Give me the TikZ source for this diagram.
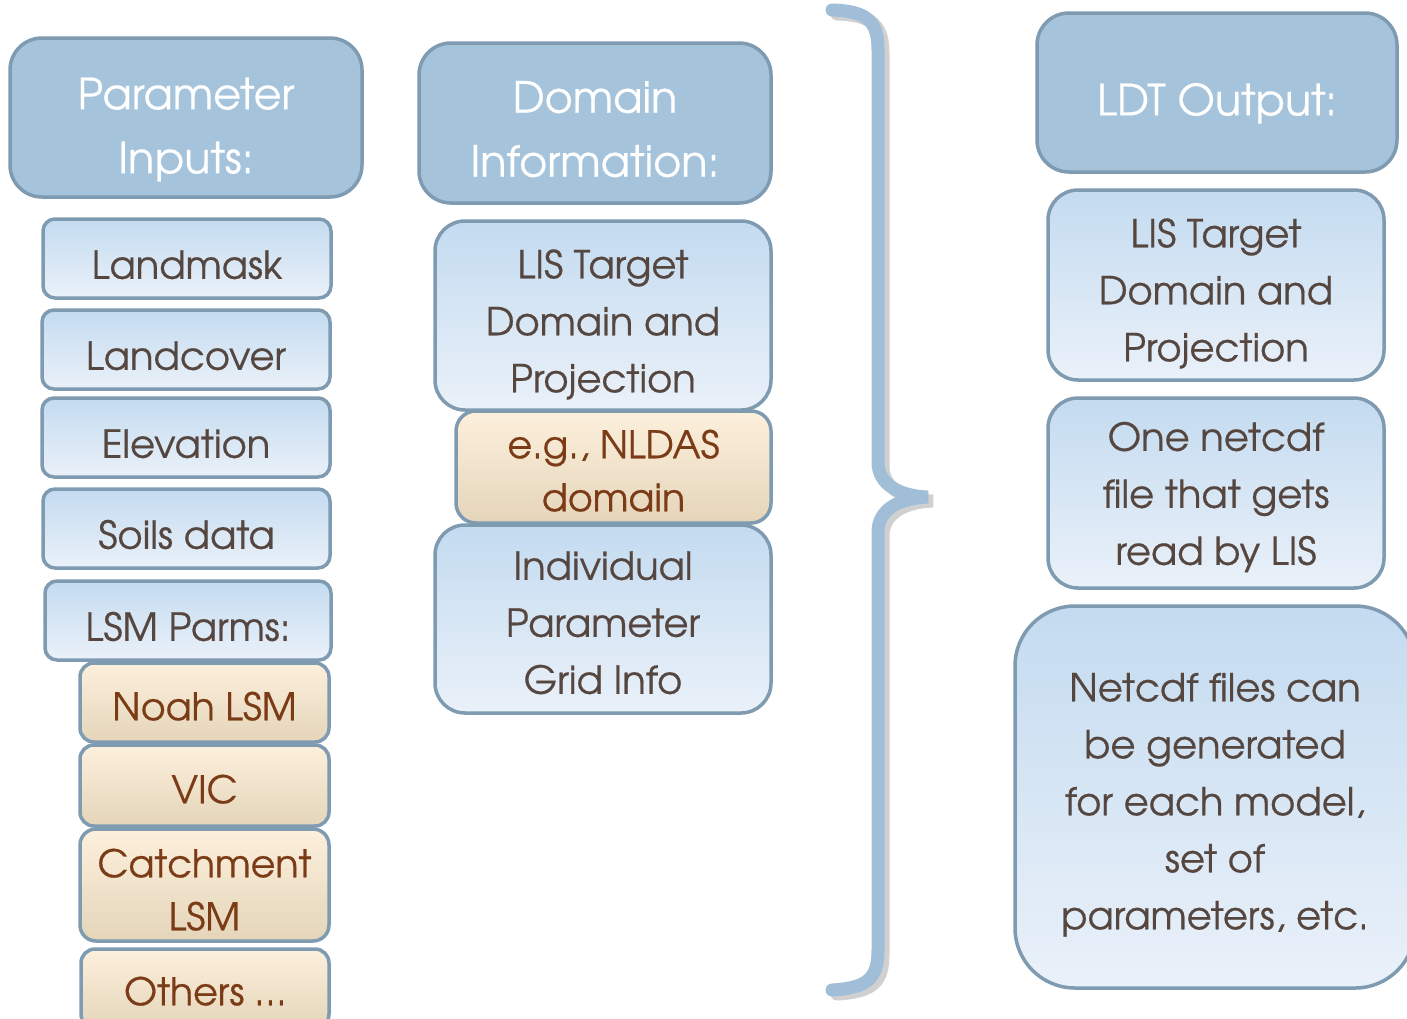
\documentclass[tikz,border=0pt]{standalone}
\usepackage{fontspec}
\setmainfont[FakeBold=0.5]{TeX Gyre Adventor}
\definecolor{hdrfill}{HTML}{A5C3DB}
\definecolor{edge}{HTML}{7E9BB1}
\definecolor{bluetop}{HTML}{C4DBF0}
\definecolor{bluebot}{HTML}{EAF1F9}
\definecolor{tantop}{HTML}{FDF0DC}
\definecolor{tanmid}{HTML}{F5EDDC}
\definecolor{tanbot}{HTML}{E4D5BA}
\definecolor{tantext}{HTML}{7A3B16}
\definecolor{darktext}{HTML}{554640}
\definecolor{bracecol}{HTML}{A0BED8}
% first-line strut (pushes text down within its box)
\newcommand\fl[1][41]{\rule{0pt}{#1pt}}
\tikzset{
  hdr/.style={draw=edge, line width=3.5, fill=hdrfill, rounded corners=32,
    text=white, align=center, font=\fontsize{43}{64}\selectfont, inner sep=0},
  bluebox/.style={draw=edge, line width=3.5, top color=bluetop, bottom color=bluebot,
    text=darktext, align=center, font=\fontsize{38.5}{57}\selectfont, inner sep=0},
  tanbox/.style={draw=edge, line width=3.5, top color=tantop, middle color=tanmid, bottom color=tanbot,
    text=tantext, align=center, font=\fontsize{38}{53}\selectfont, inner sep=0},
}
\begin{document}
\begin{tikzpicture}[x=1pt,y=-1pt]
\useasboundingbox (0,0) rectangle (1407,1018);
\clip (0,0) rectangle (1407,1018);
\fill[white] (0,0) rectangle (1407,1018);

% headers
\node[hdr, minimum width=352, minimum height=159] (h1) at (186,117.5) {\fl[56]Parameter\\Inputs:};
\node[hdr, minimum width=352, minimum height=160] (h2) at (595,123) {\fl[44]Domain\\Information:};
\node[hdr, minimum width=360, minimum height=159] (h3) at (1217,92.5) {\fl[54]LDT Output:};

% left column
\node[bluebox, rounded corners=12, minimum width=288, minimum height=79] (lm) at (187,258.5) {\fl Landmask};
\node[bluebox, rounded corners=12, minimum width=288, minimum height=79] (lc) at (186,349.5) {\fl Landcover};
\node[bluebox, rounded corners=12, minimum width=288, minimum height=79] (el) at (186,437.5) {\fl Elevation};
\node[bluebox, rounded corners=12, minimum width=287, minimum height=79] (so) at (186.5,528.5) {\fl Soils data};
\node[bluebox, rounded corners=12, minimum width=286, minimum height=79] (lsm) at (188,620.5) {\fl LSM Parms:};
\node[tanbox, rounded corners=14, minimum width=249, minimum height=79] (noah) at (204.5,702.5) {\fl[36]Noah LSM};
\node[tanbox, rounded corners=14, minimum width=249, minimum height=81] (vic) at (204.5,785.5) {\fl[36]VIC};
\node[tanbox, rounded corners=16, minimum width=249, minimum height=112] (cat) at (204.5,885) {\fl[38]Catchment\\LSM};
\node[tanbox, rounded corners=14, minimum width=248, minimum height=79] (oth) at (205,988.5) {\fl[34]Others \dots};

% middle column
\node[bluebox, rounded corners=30, minimum width=336, minimum height=189] (lis1) at (603,315.5) {\fl[47]LIS Target\\Domain and\\Projection};
\node[tanbox, rounded corners=20, minimum width=315, minimum height=112] (nldas) at (613.5,467) {\fl[36]e.g., NLDAS\\domain};
\node[bluebox, rounded corners=30, minimum width=336, minimum height=188] (ind) at (603,619) {\fl[36]Individual\\Parameter\\Grid Info};

% right column
\node[bluebox, rounded corners=30, minimum width=336, minimum height=190] (lis2) at (1216,285) {\fl[46]LIS Target\\Domain and\\Projection};
\node[bluebox, rounded corners=30, minimum width=336, minimum height=190] (one) at (1216,493) {\fl[37]One netcdf\\file that gets\\read by LIS};
\node[bluebox, rounded corners=60, minimum width=400, minimum height=382] (net) at (1215,797) {\fl[44]Netcdf files can\\be generated\\for each model,\\set of\\parameters, etc.};

% brace (shadow then brace)
\begin{scope}[shift={(5,4)}]
\draw[black!30, line width=13, line cap=round, opacity=0.6]
  (832,10) .. controls (868,11) and (878,22) .. (878,50)
  -- (878,462) .. controls (878,485) and (900,496) .. (928,497)
  .. controls (900,498) and (878,509) .. (878,532)
  -- (878,950) .. controls (878,978) and (868,988) .. (832,990);
\end{scope}
\draw[bracecol, line width=13, line cap=round]
  (832,10) .. controls (868,11) and (878,22) .. (878,50)
  -- (878,462) .. controls (878,485) and (900,496) .. (928,497)
  .. controls (900,498) and (878,509) .. (878,532)
  -- (878,950) .. controls (878,978) and (868,988) .. (832,990);
\end{tikzpicture}
\end{document}
